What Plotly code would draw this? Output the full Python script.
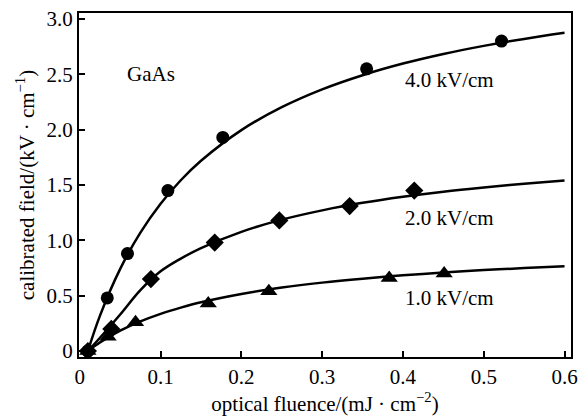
import plotly.graph_objects as go

# Measured calibrated field vs optical fluence (GaAs) at three bias fields
x_4kv = [0.010, 0.034, 0.059, 0.109, 0.177, 0.355, 0.522]
y_4kv = [0.00, 0.48, 0.88, 1.45, 1.93, 2.55, 2.80]

x_2kv = [0.010, 0.039, 0.088, 0.167, 0.247, 0.334, 0.414]
y_2kv = [0.00, 0.20, 0.65, 0.98, 1.18, 1.31, 1.45]

x_1kv = [0.010, 0.035, 0.069, 0.159, 0.234, 0.383, 0.451]
y_1kv = [0.00, 0.13, 0.26, 0.43, 0.54, 0.66, 0.70]

# Fitted saturation curves
fit_x = [0.010, 0.025, 0.050, 0.075, 0.100, 0.125, 0.150, 0.200, 0.250,
         0.300, 0.350, 0.400, 0.450, 0.500, 0.550, 0.600]
fit_y_4kv = [0.000, 0.320, 0.742, 1.069, 1.330, 1.543, 1.719, 1.996, 2.203,
             2.364, 2.492, 2.597, 2.684, 2.757, 2.820, 2.875]
fit_y_2kv = [0.000, 0.120, 0.330, 0.550, 0.720, 0.835, 0.930, 1.077, 1.187,
             1.271, 1.339, 1.394, 1.440, 1.478, 1.511, 1.540]
fit_y_1kv = [0.000, 0.078, 0.184, 0.268, 0.336, 0.392, 0.440, 0.515, 0.573,
             0.618, 0.654, 0.684, 0.709, 0.731, 0.749, 0.765]

x_ticks = [0, 0.1, 0.2, 0.3, 0.4, 0.5, 0.6]
x_tick_text = ["0", "0.1", "0.2", "0.3", "0.4", "0.5", "0.6"]
y_ticks = [0, 0.5, 1.0, 1.5, 2.0, 2.5, 3.0]
y_tick_text = ["0", "0.5", "1.0", "1.5", "2.0", "2.5", "3.0"]

labels = ["GaAs", "4.0 kV/cm", "2.0 kV/cm", "1.0 kV/cm"]
label_x = [0.088, 0.458, 0.458, 0.458]
label_y = [2.50, 2.45, 1.20, 0.48]

FONT = "Liberation Serif, Times New Roman, serif"
FS = 21

fig = go.Figure()

for fy in [fit_y_4kv, fit_y_2kv, fit_y_1kv]:
    fig.add_trace(go.Scatter(x=fit_x, y=fy, mode="lines",
                             line=dict(color="black", width=2.5, shape="spline", smoothing=1.0),
                             showlegend=False, hoverinfo="skip"))

fig.add_trace(go.Scatter(x=x_4kv, y=y_4kv, mode="markers",
                         marker=dict(symbol="circle", size=13, color="black"), showlegend=False))
fig.add_trace(go.Scatter(x=x_2kv, y=y_2kv, mode="markers",
                         marker=dict(symbol="diamond", size=14, color="black"), showlegend=False))
fig.add_trace(go.Scatter(x=x_1kv, y=y_1kv, mode="markers",
                         marker=dict(symbol="triangle-up", size=15, color="black"), showlegend=False))

for t, lx, ly in zip(labels, label_x, label_y):
    fig.add_annotation(x=lx, y=ly, text=t, showarrow=False,
                       font=dict(family=FONT, size=FS, color="black"))

fig.update_layout(
    width=585, height=420,
    margin=dict(l=79, r=7, t=13, b=63),
    paper_bgcolor="white", plot_bgcolor="white",
    font=dict(family=FONT, size=FS, color="black"),
)
fig.update_xaxes(
    range=[-0.001, 0.608], tickvals=x_ticks, ticktext=x_tick_text,
    ticks="inside", ticklen=6, tickwidth=1.5, tickcolor="black",
    showline=True, linecolor="black", linewidth=2, mirror=True,
    showgrid=False, zeroline=False,
    title=dict(text="optical fluence/(mJ · cm<sup>−2</sup>)", standoff=8, font=dict(size=FS)),
)
fig.update_yaxes(
    range=[-0.054, 3.054], tickvals=y_ticks, ticktext=y_tick_text,
    ticks="inside", ticklen=6, tickwidth=1.5, tickcolor="black",
    showline=True, linecolor="black", linewidth=2, mirror=True,
    showgrid=False, zeroline=False,
    title=dict(text="calibrated field/(kV · cm<sup>−1</sup>)", standoff=6, font=dict(size=FS)),
)

fig.write_html("out.html")
